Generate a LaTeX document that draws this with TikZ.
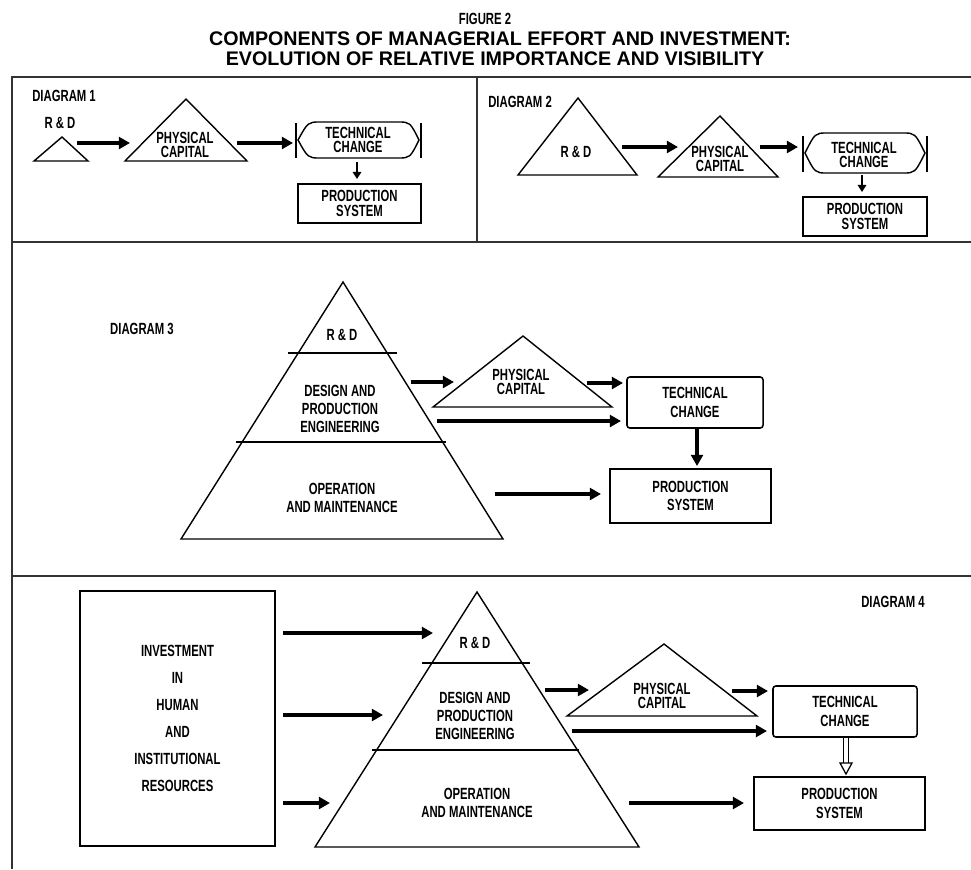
\documentclass[tikz,border=0pt]{standalone}
\usepackage{fontspec}
\setmainfont{Liberation Sans}
\newfontfamily\condfont[FakeStretch=0.7]{Liberation Sans}
\usetikzlibrary{arrows.meta}

\tikzset{
  lbl/.style={font=\condfont\bfseries\fontsize{11.5}{13}\selectfont, align=center, inner sep=0pt},
  tight/.style={lbl, font=\condfont\bfseries\fontsize{11.5}{10.5}\selectfont},
  box/.style={draw, line width=1.1pt, lbl},
  shp/.style={line width=1pt, line join=miter},
  frame/.style={line width=2pt, draw=black!80},
  arr/.style={line width=2.3pt, -{Triangle[length=8pt,width=8.5pt]}},
  sarr/.style={line width=1.8pt, -{Triangle[length=5pt,width=6pt]}},
}

\begin{document}
\begin{tikzpicture}[x=0.025cm,y=-0.025cm]
  \useasboundingbox (0,0) rectangle (971,869);

  % title
  \node[lbl] (fig) at (485,19) {FIGURE 2};
  \node[font=\bfseries\fontsize{14}{16}\selectfont, inner sep=0pt] (ttl1) at (500,39) {COMPONENTS OF MANAGERIAL EFFORT AND INVESTMENT:};
  \node[font=\bfseries\fontsize{14}{16}\selectfont, inner sep=0pt] (ttl2) at (495,59) {EVOLUTION OF RELATIVE IMPORTANCE AND VISIBILITY};

  % frame
  \draw[frame] (971,77) -- (12,77) -- (12,869);
  \draw[frame] (477,77) -- (477,242);
  \draw[frame] (12,242) -- (971,242);
  \draw[frame] (12,576) -- (971,576);

  % diagram 1
  \node[lbl, anchor=west] (dg1) at (32,96) {DIAGRAM 1};
  \node[lbl] (rd1) at (60,123) {R \& D};
  \draw[shp] (34,161) -- (88,161) -- (62,137) -- cycle;
  \draw[shp] (125,161) -- (247,161) -- (186,99) -- cycle;
  \node[tight] (pc1) at (185,145) {PHYSICAL\\CAPITAL};
  \draw[shp] (296,123) -- (296,158);
  \draw[shp] (421,123) -- (421,158);
  \draw[shp] (320,122) -- (398,122) .. controls (410,122) .. (419,140) .. controls (410,158) .. (398,158)
    -- (320,158) .. controls (308,158) .. (298,140) .. controls (308,122) .. (320,122) -- cycle;
  \node[tight] (tc1) at (358,140) {TECHNICAL\\CHANGE};
  \node[box, tight, minimum width=3.075cm, minimum height=0.975cm] (ps1) at (359.5,203.5) {PRODUCTION\\SYSTEM};
  \coordinate (a1) at (77,143);  \coordinate (b1) at (130,143);
  \coordinate (a2) at (237,143); \coordinate (b2) at (293,143);
  \coordinate (a3) at (357,162);
  \draw[arr] (a1) -- (b1);
  \draw[arr] (a2) -- (b2);
  \draw[sarr] (a3) -- (a3 |- 0,179);

  % diagram 2
  \node[lbl, anchor=west] (dg2) at (488,102) {DIAGRAM 2};
  \draw[shp] (518,175) -- (637,175) -- (578,98) -- cycle;
  \node[lbl] (rd2) at (576,152) {R \& D};
  \draw[shp] (658,177) -- (778,177) -- (720,116) -- cycle;
  \node[tight] (pc2) at (720,159) {PHYSICAL\\CAPITAL};
  \draw[shp] (803,136) -- (803,172);
  \draw[shp] (927,136) -- (927,172);
  \draw[shp] (827,133) -- (903,133) .. controls (915,133) .. (925,153) .. controls (915,173) .. (903,173)
    -- (827,173) .. controls (815,173) .. (805,153) .. controls (815,133) .. (827,133) -- cycle;
  \node[tight] (tc2) at (864,155) {TECHNICAL\\CHANGE};
  \node[box, tight, minimum width=3.1cm, minimum height=0.975cm] (ps2) at (865,216.5) {PRODUCTION\\SYSTEM};
  \coordinate (c1) at (622,147); \coordinate (d1) at (678,147);
  \coordinate (c2) at (760,147); \coordinate (d2) at (798,147);
  \coordinate (c3) at (862,175);
  \draw[arr] (c1) -- (d1);
  \draw[arr] (c2) -- (d2);
  \draw[sarr] (c3) -- (c3 |- 0,192);

  % diagram 3
  \node[lbl] (dg3) at (142,329) {DIAGRAM 3};
  \draw[shp] (181,539) -- (503,539) -- (343,282) -- cycle;
  \draw[shp] (288,353) -- (397,353);
  \draw[shp] (236,442) -- (446,442);
  \node[lbl] (rd3) at (342,335) {R \& D};
  \node[lbl] (de3) at (340,409) {DESIGN AND\\PRODUCTION\\ENGINEERING};
  \node[lbl] (om3) at (342,498) {OPERATION\\AND MAINTENANCE};
  \draw[shp] (433,407) -- (612,407) -- (523,336) -- cycle;
  \node[tight] (pc3) at (521,382) {PHYSICAL\\CAPITAL};
  \node[box, rounded corners=2pt, minimum width=3.4cm, minimum height=1.275cm] (tc3) at (695,402.5) {TECHNICAL\\CHANGE};
  \node[box, minimum width=4.025cm, minimum height=1.35cm] (ps3) at (690.5,496) {PRODUCTION\\SYSTEM};
  \coordinate (e1) at (411,382); \coordinate (f1) at (454,382);
  \coordinate (e2) at (587,383); \coordinate (f2) at (623,383);
  \coordinate (e3) at (437,421); \coordinate (f3) at (621,421);
  \coordinate (e4) at (495,494); \coordinate (f4) at (601,494);
  \draw[arr] (e1) -- (f1);
  \draw[arr] (e2) -- (f2);
  \draw[arr] (e3) -- (f3);
  \draw[arr] (e4) -- (f4);
  \draw[arr] (tc3.south -| 697,0) -- (697,466);

  % diagram 4
  \node[lbl] (dg4) at (893,602) {DIAGRAM 4};
  \node[box, minimum width=4.875cm, minimum height=6.375cm, font=\condfont\bfseries\fontsize{11.5}{19.2}\selectfont] (inv4) at (177.5,718.5)
    {INVESTMENT\\IN\\HUMAN\\AND\\INSTITUTIONAL\\RESOURCES};
  \draw[shp] (315,847) -- (639,847) -- (477,592) -- cycle;
  \draw[shp] (422,663) -- (530,663);
  \draw[shp] (372,750) -- (579,750);
  \node[lbl] (rd4) at (475,643) {R \& D};
  \node[lbl] (de4) at (475,716) {DESIGN AND\\PRODUCTION\\ENGINEERING};
  \node[lbl] (om4) at (477,803) {OPERATION\\AND MAINTENANCE};
  \draw[shp] (567,716) -- (757,716) -- (664,644) -- cycle;
  \node[tight] (pc4) at (662,696) {PHYSICAL\\CAPITAL};
  \node[box, rounded corners=2pt, minimum width=3.6cm, minimum height=1.275cm] (tc4) at (845,711.5) {TECHNICAL\\CHANGE};
  \node[box, minimum width=4.275cm, minimum height=1.325cm] (ps4) at (839.5,803.5) {PRODUCTION\\SYSTEM};
  \coordinate (g1) at (433,633); \coordinate (g2) at (383,715); \coordinate (g3) at (330,803);
  \coordinate (h1) at (545,690); \coordinate (k1) at (589,690);
  \coordinate (h2) at (732,691); \coordinate (k2) at (768,691);
  \coordinate (h3) at (572,731); \coordinate (k3) at (767,731);
  \coordinate (h4) at (629,803); \coordinate (k4) at (744,803);
  \draw[arr] (inv4.east |- g1) ++(7,0) -- (g1);
  \draw[arr] (inv4.east |- g2) ++(7,0) -- (g2);
  \draw[arr] (inv4.east |- g3) ++(7,0) -- (g3);
  \draw[arr] (h1) -- (k1);
  \draw[arr] (h2) -- (k2);
  \draw[arr] (h3) -- (k3);
  \draw[arr] (h4) -- (k4);
  \coordinate (m1) at (846,763);
  \draw[double, line width=0.9pt, double distance=2.4pt] (tc4.south -| m1) -- (m1);
  \draw[line width=0.9pt, fill=white] (840,763) -- (852,763) -- (846,774) -- cycle;
\end{tikzpicture}
\end{document}
